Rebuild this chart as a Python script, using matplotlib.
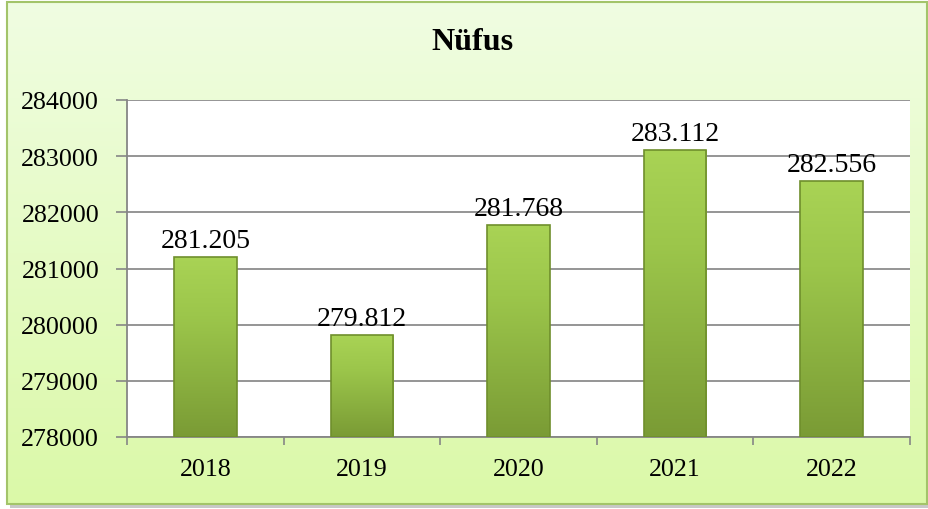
import matplotlib
matplotlib.use('Agg')

import numpy as np
from matplotlib import pyplot
from matplotlib.colors import LinearSegmentedColormap
from matplotlib.patches import Rectangle

years = ['2018', '2019', '2020', '2021', '2022']
population = [281205, 279812, 281768, 283112, 282556]
y_ticks = [278000, 279000, 280000, 281000, 282000, 283000, 284000]
title = 'Nüfus'

W, H = 929, 510
pyplot.rcParams['font.family'] = ['Liberation Serif', 'DejaVu Serif']

fig = pyplot.figure(figsize=(W / 100, H / 100), dpi=100)
fig.patch.set_facecolor('white')

# chart background with gradient, shadow and border (pixel coordinates)
bg = fig.add_axes([0, 0, 1, 1])
bg.add_patch(Rectangle((10, 7), 919, 502, facecolor='#c8c8c8',
                       edgecolor='none', zorder=0))
grad = np.linspace(0, 1, 256).reshape(-1, 1)
bg_cmap = LinearSegmentedColormap.from_list('bg', ['#f0fde2', '#dbf9a8'])
bg.imshow(grad, cmap=bg_cmap, aspect='auto', extent=(7, 927, 505, 3),
          zorder=1)
bg.add_patch(Rectangle((7, 3), 920, 502, facecolor='none',
                       edgecolor='#a3c46a', linewidth=1.5, zorder=2))
bg.text(472, 43, title, ha='center', va='center', fontsize=23,
        fontweight='bold', zorder=3)
bg.set_xlim(0, W)
bg.set_ylim(H, 0)
bg.axis('off')

# plot area
ax = fig.add_axes([127 / W, 1 - 438 / H, (910 - 127) / W, (438 - 101) / H])
ax.set_facecolor('white')
x = np.arange(len(years))
base = y_ticks[0]
heights = [v - base for v in population]
bars = ax.bar(x, heights, bottom=base, width=0.4, color='#98bf45',
              edgecolor='none', zorder=3)

bar_cmap = LinearSegmentedColormap.from_list(
    'bar', ['#a9d355', '#9cc64b', '#8bb140', '#7a9b35'])
for b in bars:
    bx, by = b.get_x(), b.get_y()
    bw, bh = b.get_width(), b.get_height()
    im = ax.imshow(grad, cmap=bar_cmap, aspect='auto',
                   extent=(bx, bx + bw, by, by + bh), zorder=3.5,
                   origin='upper')
    im.set_clip_path(b)
    ax.add_patch(Rectangle((bx, by), bw, bh, facecolor='none',
                           edgecolor='#6f8f2c', linewidth=1.2, zorder=4))

for xi, v in zip(x, population):
    ax.annotate(f'{v:,}'.replace(',', '.'), (xi, v), xytext=(0, 3),
                textcoords='offset points', ha='center', va='bottom',
                fontsize=20, zorder=5)

ax.set_xlim(-0.5, len(years) - 0.5)
ax.set_ylim(y_ticks[0], y_ticks[-1])
ax.set_yticks(y_ticks)
ax.set_yticklabels([str(t) for t in y_ticks])
ax.set_xticks(x)
ax.set_xticklabels(years)
ax.set_xticks(np.arange(-0.5, len(years)), minor=True)
ax.tick_params(axis='x', which='major', length=0, pad=15, labelsize=18.7)
ax.tick_params(axis='x', which='minor', length=6, width=1.2,
               color='#868686', direction='out')
ax.tick_params(axis='y', length=8, width=1.2, color='#868686',
               direction='out', pad=12, labelsize=18.7)
ax.grid(axis='y', color='#8c8c8c', linewidth=1.3, zorder=0)
ax.set_axisbelow(True)
for side in ['top', 'right']:
    ax.spines[side].set_visible(False)
for side in ['left', 'bottom']:
    ax.spines[side].set_color('#868686')
    ax.spines[side].set_linewidth(1.3)

pyplot.savefig('out.png', dpi=100)
pyplot.close()
